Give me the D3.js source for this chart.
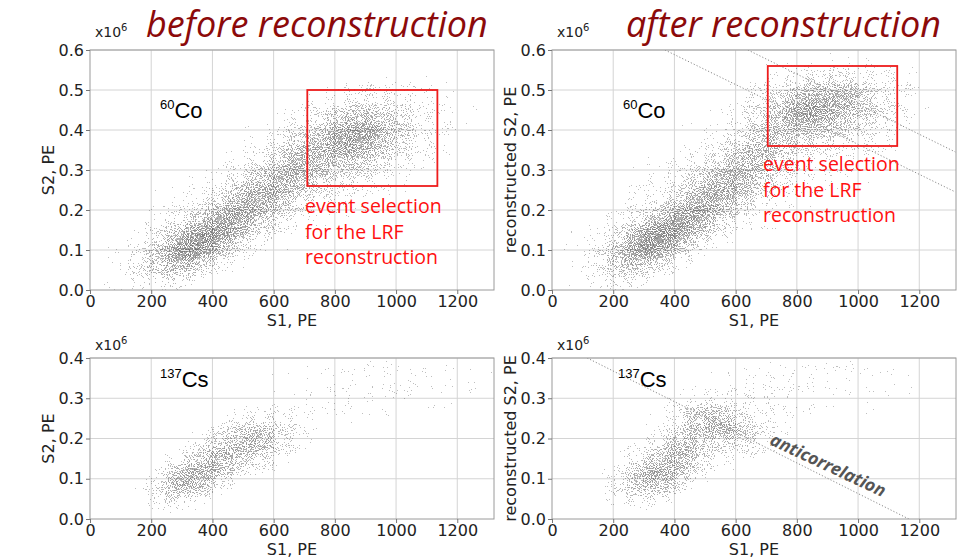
<!DOCTYPE html>
<html><head><meta charset="utf-8">
<script src="https://cdn.jsdelivr.net/npm/d3@7"></script>
<style>body{margin:0;background:#fff}svg{display:block}</style>
</head><body>
<svg id="fig" width="961" height="558"></svg>
<script>
// Tick values
const s1Ticks = [0, 200, 400, 600, 800, 1000, 1200];
const s2TicksCo = [0, 0.1, 0.2, 0.3, 0.4, 0.5, 0.6];
const s2TicksCs = [0, 0.1, 0.2, 0.3, 0.4];

// Event clouds, one row per population:
// [S1 centre, S2 centre (x10^6), S1 spread, S2 spread, correlation, event density]
const coBefore = [
  [330, 0.110, 80, 0.045, 0.50, 0.68],
  [450, 0.165, 90, 0.060, 0.65, 0.50],
  [590, 0.250, 90, 0.060, 0.55, 0.40],
  [700, 0.320, 60, 0.045, 0.30, 0.28],
  [870, 0.380, 115, 0.060, 0.25, 0.50],
  [860, 0.385, 55, 0.030, 0.20, 0.30],
  [600, 0.250, 330, 0.140, 0.80, 0.14],
  [250, 0.080, 90, 0.050, 0.30, 0.10],
  [800, 0.350, 450, 0.200, 0.30, 0.04]
];
const coAfter = [
  [320, 0.120, 80, 0.045, 0.50, 0.68],
  [440, 0.175, 90, 0.060, 0.65, 0.50],
  [580, 0.265, 90, 0.065, 0.55, 0.40],
  [700, 0.360, 60, 0.050, 0.30, 0.28],
  [880, 0.455, 125, 0.050, 0.10, 0.50],
  [830, 0.440, 50, 0.025, 0.00, 0.32],
  [940, 0.490, 60, 0.025, 0.00, 0.15],
  [600, 0.280, 330, 0.150, 0.80, 0.14],
  [240, 0.080, 90, 0.050, 0.30, 0.10],
  [800, 0.380, 450, 0.200, 0.30, 0.04]
];
const csBefore = [
  [310, 0.095, 60, 0.035, 0.40, 0.45],
  [410, 0.140, 60, 0.045, 0.40, 0.36],
  [540, 0.195, 65, 0.035, 0.10, 0.40],
  [440, 0.150, 160, 0.065, 0.70, 0.18],
  [950, 0.340, 320, 0.100, 0.10, 0.07]
];
const csAfter = [
  [320, 0.105, 60, 0.035, 0.30, 0.45],
  [420, 0.160, 60, 0.055, 0.50, 0.36],
  [550, 0.235, 75, 0.035, -0.50, 0.45],
  [440, 0.170, 170, 0.075, 0.60, 0.18],
  [850, 0.350, 320, 0.100, 0.10, 0.07]
];

// Event selection windows: [S1 min, S1 max, S2 min, S2 max]
const coBeforeBox = [710, 1135, 0.26, 0.50];
const coAfterBox = [705, 1128, 0.36, 0.56];

// Dotted guide lines, as [[S1, S2], [S1, S2]]
const coAfterGuides = [[[369, 0.6], [1318, 0.245]], [[640, 0.6], [1318, 0.345]]];
const csAfterGuides = [[[115, 0.4], [1166, 0.0]]];

const selectionText = ["event selection", "for the LRF", "reconstruction"];

const svg = d3.select("#fig");
const defs = svg.append("defs");

// Grain filter: a smooth density field becomes scattered specks,
// with the share of specked pixels following the local density.
const f = defs.append("filter").attr("id", "grain")
  .attr("filterUnits", "userSpaceOnUse").attr("x", 0).attr("y", 0)
  .attr("width", 961).attr("height", 558)
  .attr("color-interpolation-filters", "sRGB");
f.append("feTurbulence").attr("type", "fractalNoise").attr("baseFrequency", 0.95)
  .attr("numOctaves", 2).attr("seed", 7).attr("result", "noise");
f.append("feColorMatrix").attr("in", "noise").attr("type", "matrix")
  .attr("values", "0 0 0 0 0  0 0 0 0 0  0 0 0 0 0  1 0 0 0 0").attr("result", "n0");
// flatten the noise so that its values spread evenly over 0..1
f.append("feComponentTransfer").attr("in", "n0").attr("result", "n")
  .append("feFuncA").attr("type", "table")
  .attr("tableValues", "0 0 0.006 0.048 0.2 0.5 0.8 0.952 0.994 1 1");
f.append("feComposite").attr("in", "SourceGraphic").attr("in2", "n")
  .attr("operator", "arithmetic").attr("k1", 0).attr("k2", 1).attr("k3", 1).attr("k4", -1)
  .attr("result", "s");
f.append("feComponentTransfer").attr("in", "s")
  .append("feFuncA").attr("type", "discrete")
  .attr("tableValues", d3.range(32).map(k => k === 0 ? 0 : (0.24 + 0.42 * k / 31).toFixed(3)).join(" "));

const fmtY = d3.format(".1f");
const fmtX = d3.format("d");
const R = 2.8;

function panel(cfg) {
  const x = d3.scaleLinear().domain([0, 1320]).range([cfg.left, cfg.right]);
  const y = d3.scaleLinear().domain([0, cfg.ymax]).range([cfg.bottom, cfg.top]);
  const g = svg.append("g");
  const cid = "clip-" + cfg.id;
  defs.append("clipPath").attr("id", cid).append("rect")
    .attr("x", cfg.left).attr("y", cfg.top)
    .attr("width", cfg.right - cfg.left).attr("height", cfg.bottom - cfg.top);

  // grid
  g.append("g").selectAll("line").data(s1Ticks.slice(1)).join("line")
    .attr("x1", d => x(d)).attr("x2", d => x(d)).attr("y1", cfg.top).attr("y2", cfg.bottom)
    .attr("stroke", "#d4d4d4").attr("stroke-width", 1);
  g.append("g").selectAll("line").data(cfg.yticks.slice(1)).join("line")
    .attr("y1", d => y(d)).attr("y2", d => y(d)).attr("x1", cfg.left).attr("x2", cfg.right)
    .attr("stroke", "#d4d4d4").attr("stroke-width", 1);

  // event cloud
  const cloud = g.append("g").attr("clip-path", `url(#${cid})`)
    .append("g").attr("filter", "url(#grain)");
  const kx = x(1) - x(0), ky = y(1) - y(0);
  cfg.cloud.forEach((b, i) => {
    const [m1, m2, sd1, sd2, rho, w] = b;
    const a = (sd1 * kx) ** 2, c = (sd2 * ky) ** 2, bb = rho * sd1 * sd2 * kx * ky;
    const mid = (a + c) / 2, diff = Math.sqrt(((a - c) / 2) ** 2 + bb * bb);
    const l1 = mid + diff, l2 = Math.max(mid - diff, 1e-6);
    const th = 0.5 * Math.atan2(2 * bb, a - c) * 180 / Math.PI;
    const gid = cfg.id + "-pop" + i;
    const grad = defs.append("radialGradient").attr("id", gid);
    d3.range(0, 15).forEach(k => {
      const t = k / 14;
      grad.append("stop").attr("offset", t).attr("stop-color", "#000")
        .attr("stop-opacity", w * Math.exp(-((R * t) ** 2) / 2));
    });
    cloud.append("ellipse").attr("cx", 0).attr("cy", 0)
      .attr("rx", R * Math.sqrt(l1)).attr("ry", R * Math.sqrt(l2))
      .attr("transform", `translate(${x(m1)},${y(m2)}) rotate(${th})`)
      .attr("fill", `url(#${gid})`);
  });

  // guides
  (cfg.guides || []).forEach(l => {
    g.append("line").attr("clip-path", `url(#${cid})`)
      .attr("x1", x(l[0][0])).attr("y1", y(l[0][1])).attr("x2", x(l[1][0])).attr("y2", y(l[1][1]))
      .attr("stroke", "#8a8a8a").attr("stroke-width", 1).attr("stroke-dasharray", "1.2,2");
  });

  // frame
  g.append("rect").attr("x", cfg.left).attr("y", cfg.top)
    .attr("width", cfg.right - cfg.left).attr("height", cfg.bottom - cfg.top)
    .attr("fill", "none").attr("stroke", "#9a9a9a").attr("stroke-width", 1);

  // axes
  const ax = g.append("g").attr("transform", `translate(0,${cfg.bottom})`)
    .call(d3.axisBottom(x).tickValues(s1Ticks).tickFormat(fmtX).tickSize(4).tickPadding(2));
  const ay = g.append("g").attr("transform", `translate(${cfg.left},0)`)
    .call(d3.axisLeft(y).tickValues(cfg.yticks).tickFormat(fmtY).tickSize(4).tickPadding(2));
  [ax, ay].forEach(a => {
    a.select(".domain").remove();
    a.selectAll("line").attr("stroke", "#777");
    a.selectAll("text").attr("font-family", "DejaVu Sans").attr("font-size", 16).attr("fill", "#222");
  });

  // axis titles
  g.append("text").attr("x", (cfg.left + cfg.right) / 2).attr("y", cfg.bottom + 36)
    .attr("text-anchor", "middle").attr("font-family", "DejaVu Sans").attr("font-size", 16)
    .attr("fill", "#222").text("S1, PE");
  g.append("text").attr("transform", `translate(${cfg.ylabX},${(cfg.top + cfg.bottom) / 2}) rotate(-90)`)
    .attr("text-anchor", "middle").attr("font-family", "DejaVu Sans").attr("font-size", 16)
    .attr("fill", "#222").text(cfg.ylab);

  // multiplier
  const m = g.append("text").attr("x", cfg.left + 5).attr("y", cfg.top - cfg.multGap)
    .attr("font-family", "DejaVu Sans").attr("font-size", 14).attr("fill", "#222");
  m.append("tspan").text("x10");
  m.append("tspan").attr("dy", -6).attr("font-size", 10).text("6");

  // isotope label
  const iso = g.append("text").attr("x", cfg.isoX).attr("y", cfg.isoY)
    .attr("font-family", "Liberation Sans").attr("fill", "#000");
  iso.append("tspan").attr("font-size", 13).attr("dy", -9).text(cfg.iso[0]);
  iso.append("tspan").attr("font-size", 22).attr("dy", 9).text(cfg.iso[1]);

  // selection window
  if (cfg.box) {
    const [a1, a2, b1, b2] = cfg.box;
    g.append("rect").attr("x", x(a1)).attr("y", y(b2))
      .attr("width", x(a2) - x(a1)).attr("height", y(b1) - y(b2))
      .attr("fill", "none").attr("stroke", "#ee1c1c").attr("stroke-width", 1.8);
    g.append("g").selectAll("text").data(selectionText).join("text")
      .attr("x", cfg.noteX).attr("y", (d, i) => cfg.noteY + i * 25.5)
      .attr("font-family", "Open Sans").attr("font-size", 19.5).attr("fill", "#ff1010")
      .text(d => d);
  }
  return {x, y, g};
}

panel({id: "cob", left: 90, right: 494, top: 50, bottom: 290, ymax: 0.6, yticks: s2TicksCo,
  cloud: coBefore, box: coBeforeBox, noteX: 305, noteY: 213, ylab: "S2, PE", ylabX: 54,
  multGap: 13, iso: ["60", "Co"], isoX: 160, isoY: 118});
panel({id: "coa", left: 552, right: 956, top: 50, bottom: 290, ymax: 0.6, yticks: s2TicksCo,
  cloud: coAfter, box: coAfterBox, noteX: 763, noteY: 171, guides: coAfterGuides,
  ylab: "reconstructed S2, PE", ylabX: 516, multGap: 13, iso: ["60", "Co"], isoX: 623, isoY: 118});
panel({id: "csb", left: 90, right: 494, top: 358, bottom: 519, ymax: 0.4, yticks: s2TicksCs,
  cloud: csBefore, ylab: "S2, PE", ylabX: 54, multGap: 8, iso: ["137", "Cs"], isoX: 160, isoY: 387});
const br = panel({id: "csa", left: 552, right: 956, top: 358, bottom: 519, ymax: 0.4, yticks: s2TicksCs,
  cloud: csAfter, guides: csAfterGuides, ylab: "reconstructed S2, PE", ylabX: 516, multGap: 8,
  iso: ["137", "Cs"], isoX: 618, isoY: 387});

// anticorrelation tag beside the guide
{
  const l = csAfterGuides[0];
  const ang = Math.atan2(br.y(l[1][1]) - br.y(l[0][1]), br.x(l[1][0]) - br.x(l[0][0])) * 180 / Math.PI;
  br.g.append("text").attr("transform", `translate(${br.x(902)},${br.y(0.134)}) rotate(${ang - 1.5})`)
    .attr("text-anchor", "middle").attr("dy", "0.35em").attr("font-family", "Open Sans")
    .attr("font-style", "italic").attr("font-weight", "bold").attr("font-size", 17.5)
    .attr("fill", "#555").text("anticorrelation");
}

// headings
svg.append("text").attr("x", 146).attr("y", 37).attr("font-family", "Open Sans")
  .attr("font-style", "italic").attr("font-size", 36).attr("fill", "#8c0a0a").text("before reconstruction");
svg.append("text").attr("x", 626).attr("y", 37).attr("font-family", "Open Sans")
  .attr("font-style", "italic").attr("font-size", 36).attr("fill", "#8c0a0a").text("after reconstruction");
</script>
</body></html>
